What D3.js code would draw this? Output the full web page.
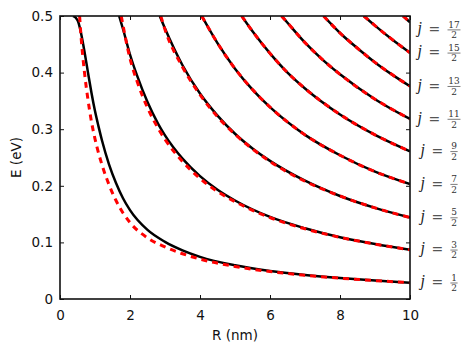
<!DOCTYPE html>
<html>
<head>
<meta charset="utf-8">
<script src="https://d3js.org/d3.v7.min.js"></script>
<style>
  body { margin: 0; background: #fff; }
  .tick text { font-family: "DejaVu Sans", sans-serif; font-size: 13.5px; fill: #111; }
</style>
</head>
<body>
<svg id="chart" width="469" height="351"></svg>
<script>
// ticks
const xTicks = [0, 2, 4, 6, 8, 10];
const xTickLabels = ["0", "2", "4", "6", "8", "10"];
const yTicks = [0, 0.1, 0.2, 0.3, 0.4, 0.5];
const yTickLabels = ["0", "0.1", "0.2", "0.3", "0.4", "0.5"];

// curves, [R (nm), E (eV)]
const solidJ1 = [[0.37,0.5],[0.45,0.497],[0.53,0.488],[0.6,0.47],[0.7,0.437],[0.8,0.4],[0.9,0.364],[1.0,0.332],[1.1,0.305],[1.2,0.28],[1.4,0.238],[1.6,0.205],[1.8,0.178],[2.0,0.157],[2.5,0.122],[3,0.101],[3.5,0.086],[4,0.0745],[5,0.0595],[6,0.0495],[7,0.0425],[8,0.037],[9,0.0325],[10,0.0288]];
const dashJ1 = [[0.56,0.5],[0.6,0.465],[0.7,0.4],[0.8,0.352],[0.9,0.313],[1.0,0.283],[1.2,0.237],[1.4,0.202],[1.6,0.174],[1.8,0.152],[2.0,0.135],[2.5,0.108],[3,0.092],[3.5,0.08],[4,0.0705],[5,0.0575],[6,0.0485],[7,0.042],[8,0.0368],[9,0.0325],[10,0.0288]];
const solidJ3 = [[1.69,0.5],[1.8,0.477],[2.0,0.432],[2.2,0.395],[2.5,0.348],[2.8,0.31],[3.0,0.289],[3.5,0.248],[4,0.217],[4.5,0.193],[5,0.174],[6,0.145],[7,0.125],[8,0.109],[9,0.097],[10,0.087]];
const dashJ3 = [[1.75,0.5],[2.0,0.425],[2.2,0.385],[2.5,0.338],[2.8,0.302],[3.0,0.282],[3.5,0.243],[4,0.213],[4.5,0.19],[5,0.172],[6,0.144],[7,0.124],[8,0.109],[9,0.097],[10,0.087]];
const solidJ5 = [[2.85,0.5],[3.0,0.478],[3.5,0.413],[4,0.363],[4.5,0.324],[5,0.292],[5.5,0.266],[6,0.244],[7,0.209],[8,0.182],[9,0.161],[10,0.144]];
const dashJ5 = [[2.88,0.5],[3.0,0.476],[3.5,0.41],[4,0.361],[4.5,0.322],[5,0.291],[5.5,0.265],[6,0.243],[7,0.208],[8,0.182],[9,0.161],[10,0.144]];
const curveJ7 = [[4.05,0.5],[4.5,0.452],[5,0.407],[5.5,0.37],[6,0.339],[7,0.29],[8,0.254],[9,0.225],[10,0.203]];
const curveJ9 = [[5.19,0.5],[5.5,0.473],[6,0.434],[6.5,0.4],[7,0.372],[8,0.326],[9,0.29],[10,0.261]];
const curveJ11 = [[6.33,0.5],[6.5,0.488],[7,0.453],[7.5,0.423],[8,0.397],[9,0.353],[10,0.318]];
const curveJ13 = [[7.53,0.5],[8,0.47],[8.5,0.443],[9,0.418],[9.5,0.396],[10,0.376]];
const curveJ15 = [[8.68,0.5],[9,0.483],[9.5,0.458],[10,0.435]];
const curveJ17 = [[9.8,0.5],[10,0.489]];

const solidCurves = [solidJ1, solidJ3, solidJ5, curveJ7, curveJ9, curveJ11, curveJ13, curveJ15, curveJ17];
const dashCurves = [dashJ1, dashJ3, dashJ5, curveJ7, curveJ9, curveJ11, curveJ13, curveJ15, curveJ17];

// right-hand labels j = n/2
const labelNum = ["1", "3", "5", "7", "9", "11", "13", "15", "17"];
const labelE = [0.0288, 0.087, 0.144, 0.203, 0.261, 0.318, 0.376, 0.435, 0.476];

const svg = d3.select("#chart");
const x = d3.scaleLinear().domain([0, 10]).range([60, 410]);
const y = d3.scaleLinear().domain([0, 0.5]).range([299, 16]);

svg.append("defs").append("clipPath").attr("id", "plotclip")
  .append("rect").attr("x", 60).attr("y", 16).attr("width", 350).attr("height", 283);

const line = d3.line().x(d => x(d[0])).y(d => y(d[1])).curve(d3.curveMonotoneX);

const plot = svg.append("g").attr("clip-path", "url(#plotclip)");

plot.selectAll("path.solid").data(solidCurves).enter().append("path")
  .attr("class", "solid")
  .attr("d", line)
  .attr("fill", "none")
  .attr("stroke", "#000")
  .attr("stroke-width", 2.5);

plot.selectAll("path.dash").data(dashCurves).enter().append("path")
  .attr("class", "dash")
  .attr("d", line)
  .attr("fill", "none")
  .attr("stroke", "#ff0000")
  .attr("stroke-width", 3)
  .attr("stroke-dasharray", "6,5");

// axes, ticks point inward
const fmtX = d => xTickLabels[xTicks.indexOf(d)];
const fmtY = d => yTickLabels[yTicks.indexOf(d)];

const gx = svg.append("g").attr("transform", "translate(0,299)")
  .call(d3.axisBottom(x).tickValues(xTicks).tickFormat(fmtX).tickSize(-4).tickPadding(11));
const gy = svg.append("g").attr("transform", "translate(60,0)")
  .call(d3.axisLeft(y).tickValues(yTicks).tickFormat(fmtY).tickSize(-4).tickPadding(7));
const gt = svg.append("g").attr("transform", "translate(0,16)")
  .call(d3.axisTop(x).tickValues(xTicks).tickFormat("").tickSize(-4));
const gr = svg.append("g").attr("transform", "translate(410,0)")
  .call(d3.axisRight(y).tickValues(yTicks).tickFormat("").tickSize(-4));

[gx, gy, gt, gr].forEach(g => {
  g.select(".domain").remove();
  g.selectAll(".tick line").attr("stroke", "#111").attr("stroke-width", 1);
});

svg.append("rect")
  .attr("x", 60).attr("y", 16).attr("width", 350).attr("height", 283)
  .attr("fill", "none").attr("stroke", "#111").attr("stroke-width", 1.6);

// axis titles
svg.append("text")
  .attr("x", 235).attr("y", 340)
  .attr("text-anchor", "middle")
  .style("font-family", "DejaVu Sans, sans-serif").style("font-size", "13.5px").style("fill", "#111")
  .text("R (nm)");

svg.append("text")
  .attr("transform", "translate(21,157.5) rotate(-90)")
  .attr("text-anchor", "middle")
  .style("font-family", "DejaVu Sans, sans-serif").style("font-size", "13.5px").style("fill", "#111")
  .text("E (eV)");

// j labels with stacked fractions
labelNum.forEach((num, i) => {
  const cy = y(labelE[i]);
  const g = svg.append("g");
  g.append("text")
    .attr("x", 0).attr("y", 3.5)
    .style("font-family", "Liberation Serif, serif").style("font-style", "italic")
    .style("font-size", "16px").style("fill", "#222")
    .text("j");
  g.append("text")
    .attr("x", 11).attr("y", 4.5)
    .style("font-family", "DejaVu Serif, serif").style("font-size", "14px").style("fill", "#555")
    .text("=");
  const numT = g.append("text")
    .attr("y", -2)
    .attr("text-anchor", "middle")
    .style("font-family", "DejaVu Serif, serif").style("font-size", "9px").style("fill", "#333")
    .text(num);
  const w = Math.max(numT.node().getComputedTextLength(), 5.5) + 1.5;
  const fc = 30 + w / 2;
  numT.attr("x", fc);
  g.append("line")
    .attr("x1", 30).attr("x2", 30 + w).attr("y1", 0.3).attr("y2", 0.3)
    .attr("stroke", "#444").attr("stroke-width", 0.7);
  g.append("text")
    .attr("x", fc).attr("y", 8.5)
    .attr("text-anchor", "middle")
    .style("font-family", "DejaVu Serif, serif").style("font-size", "9px").style("fill", "#333")
    .text("2");
  const total = 30 + w;
  g.attr("transform", `translate(${439 - total / 2},${cy})`);
});
</script>
</body>
</html>
